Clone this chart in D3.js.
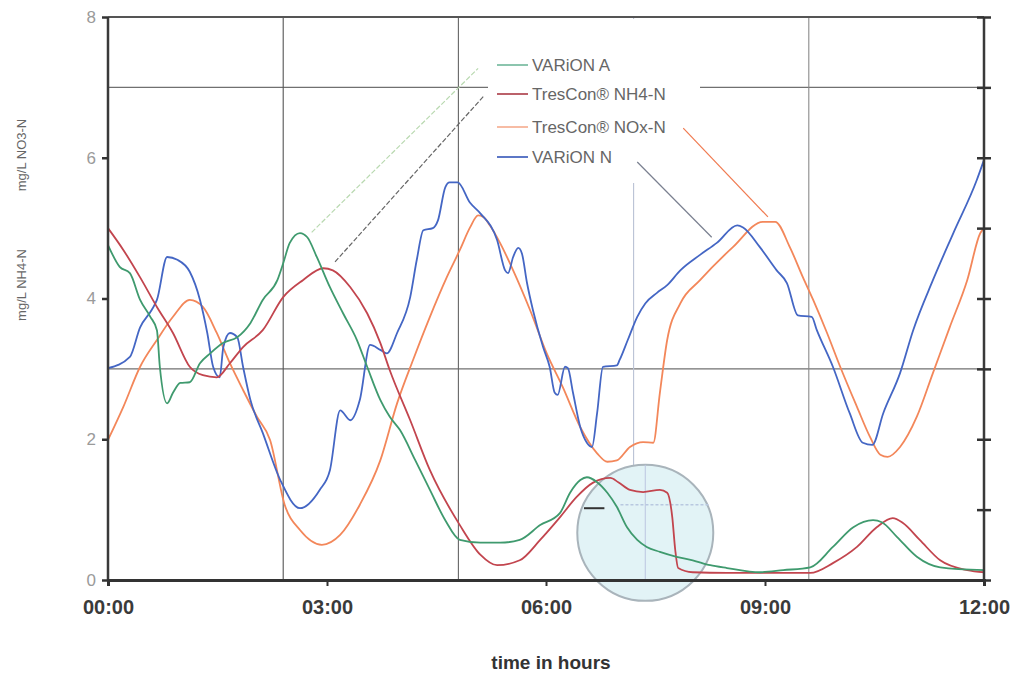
<!DOCTYPE html>
<html><head><meta charset="utf-8">
<script src="https://cdn.jsdelivr.net/npm/d3@7/dist/d3.min.js"></script>
<style>body{margin:0;background:#fff;}svg{display:block;font-family:"Liberation Sans",Arial,sans-serif;}</style>
</head><body>
<svg id="c" width="1019" height="673"></svg>
<script>
// ---- data (hours, mg/L) ----
const xTicks = [0, 3, 6, 9, 12];
const xTickLabels = ["00:00", "03:00", "06:00", "09:00", "12:00"];
const yTicks = [0, 2, 4, 6, 8];
const yTickLabels = ["0", "2", "4", "6", "8"];
const rightTicks = [0,1,2,3,4,5,6,7,8];
const gridH = [3, 7];
const gridV = [2.4, 4.8, 7.2, 9.6];
const seriesNames = ["VARiON A", "TresCon\u00AE  NH4-N", "TresCon\u00AE NOx-N", "VARiON N"];

const varionA = [[0,4.76],[0.16,4.45],[0.30,4.36],[0.44,3.98],[0.58,3.74],[0.67,3.55],[0.71,3.03],[0.81,2.51],[0.89,2.66],[0.99,2.80],[1.12,2.81],[1.26,3.08],[1.40,3.22],[1.58,3.37],[1.77,3.45],[1.95,3.65],[2.12,3.98],[2.32,4.26],[2.40,4.50],[2.49,4.79],[2.63,4.93],[2.73,4.87],[2.86,4.59],[3.04,4.16],[3.22,3.79],[3.41,3.41],[3.55,3.03],[3.73,2.56],[3.86,2.32],[4.00,2.13],[4.21,1.70],[4.41,1.28],[4.62,0.85],[4.82,0.57],[5.10,0.53],[5.37,0.53],[5.64,0.57],[5.92,0.78],[6.19,0.95],[6.33,1.24],[6.47,1.42],[6.56,1.46],[6.70,1.39],[6.84,1.24],[6.97,1.04],[7.11,0.75],[7.25,0.57],[7.38,0.47],[7.56,0.40],[7.79,0.33],[8.01,0.28],[8.25,0.21],[8.48,0.17],[8.93,0.11],[9.25,0.14],[9.62,0.18],[9.93,0.47],[10.21,0.75],[10.48,0.85],[10.60,0.82],[10.81,0.61],[11.08,0.33],[11.40,0.18],[12,0.14]];

const tresNH4 = [[0,5.0],[0.21,4.69],[0.44,4.30],[0.67,3.88],[0.89,3.51],[1.12,3.03],[1.30,2.91],[1.49,2.88],[1.67,3.08],[1.85,3.31],[2.12,3.55],[2.40,4.02],[2.67,4.26],[2.95,4.43],[3.08,4.40],[3.32,4.16],[3.55,3.79],[3.73,3.37],[3.86,2.98],[4.14,2.27],[4.41,1.56],[4.82,0.78],[5.10,0.36],[5.33,0.21],[5.64,0.28],[5.92,0.57],[6.19,0.89],[6.42,1.18],[6.64,1.38],[6.88,1.45],[6.99,1.39],[7.15,1.28],[7.33,1.25],[7.56,1.28],[7.66,1.24],[7.73,0.89],[7.77,0.43],[7.81,0.17],[8.01,0.11],[8.48,0.10],[9.62,0.10],[9.93,0.24],[10.26,0.47],[10.53,0.75],[10.75,0.88],[10.89,0.81],[11.12,0.57],[11.40,0.28],[11.77,0.14],[12,0.11]];

const tresNOx = [[0,1.99],[0.21,2.46],[0.44,3.03],[0.67,3.41],[0.89,3.74],[1.12,3.98],[1.30,3.88],[1.49,3.51],[1.67,3.08],[1.85,2.70],[2.04,2.32],[2.22,1.99],[2.42,1.07],[2.63,0.71],[2.93,0.50],[3.18,0.64],[3.45,1.07],[3.73,1.70],[3.96,2.51],[4.18,3.13],[4.41,3.74],[4.64,4.30],[4.82,4.69],[4.96,5.01],[5.07,5.18],[5.14,5.16],[5.23,5.04],[5.37,4.79],[5.55,4.40],[5.78,3.84],[6.01,3.22],[6.23,2.74],[6.47,2.17],[6.70,1.80],[6.84,1.68],[6.97,1.70],[7.15,1.89],[7.33,1.96],[7.47,1.95],[7.56,2.66],[7.66,3.41],[7.84,3.93],[8.11,4.26],[8.56,4.73],[8.97,5.09],[9.14,5.09],[9.34,4.73],[9.52,4.30],[9.66,3.98],[9.85,3.51],[10.03,3.03],[10.26,2.46],[10.44,2.03],[10.58,1.78],[10.68,1.75],[10.85,1.89],[11.08,2.32],[11.30,2.94],[11.53,3.59],[11.77,4.26],[11.95,4.93],[12,5.0]];

const varionN = [[0,3.01],[0.30,3.17],[0.44,3.59],[0.60,3.84],[0.67,3.98],[0.81,4.59],[0.95,4.55],[1.12,4.38],[1.26,3.98],[1.36,3.51],[1.44,3.03],[1.53,2.88],[1.58,3.31],[1.67,3.51],[1.77,3.45],[1.85,3.03],[1.95,2.56],[2.12,2.09],[2.36,1.42],[2.63,1.02],[2.90,1.28],[3.04,1.56],[3.18,2.41],[3.32,2.27],[3.45,2.56],[3.59,3.34],[3.73,3.27],[3.82,3.22],[3.96,3.51],[4.14,4.02],[4.23,4.55],[4.32,4.97],[4.45,5.00],[4.52,5.11],[4.62,5.58],[4.68,5.65],[4.79,5.65],[4.96,5.36],[5.10,5.21],[5.33,4.83],[5.44,4.40],[5.48,4.36],[5.55,4.59],[5.62,4.72],[5.67,4.64],[5.74,4.22],[5.82,3.84],[5.96,3.31],[6.05,3.03],[6.12,2.66],[6.16,2.63],[6.26,3.03],[6.30,3.01],[6.37,2.66],[6.47,2.17],[6.56,1.95],[6.63,1.89],[6.70,2.37],[6.78,3.03],[6.97,3.05],[7.01,3.13],[7.12,3.41],[7.25,3.74],[7.36,3.93],[7.52,4.08],[7.66,4.19],[7.84,4.40],[8.11,4.62],[8.34,4.79],[8.62,5.04],[8.70,5.01],[8.93,4.73],[9.16,4.40],[9.30,4.22],[9.45,3.76],[9.64,3.74],[9.71,3.55],[9.93,3.03],[10.16,2.37],[10.34,1.95],[10.47,1.92],[10.62,2.37],[10.85,2.94],[11.03,3.55],[11.30,4.26],[11.58,4.93],[11.90,5.68],[12,5.97]];

// ---- layout ----
const svg = d3.select("#c");
const L = 108, R = 984, T = 17, B = 580;
const x = d3.scaleLinear().domain([0, 12]).range([L, R]);
const y = d3.scaleLinear().domain([0, 8]).range([B, T]);

const colors = ["#3f9a6e", "#c2454e", "#f3875a", "#4466c4"];
const legendColors = ["#7fbfa5", "#b4505a", "#f7b59a", "#4a68c0"];

// grid
svg.append("g").selectAll("line").data(gridH).join("line")
  .attr("x1", L).attr("x2", R).attr("y1", d => y(d)).attr("y2", d => y(d))
  .attr("stroke", "#707070").attr("stroke-width", 1.2);
const vCol = ["#555", "#666", "#b9c2d4", "#8a8a8a"];
svg.append("g").selectAll("line").data(gridV).join("line")
  .attr("x1", d => x(d)).attr("x2", d => x(d)).attr("y1", T).attr("y2", B)
  .attr("stroke", (d, i) => vCol[i]).attr("stroke-width", 1.1);

// highlight circle
const circ = {t: 7.36, v: 0.67, r: 68};
svg.append("circle").attr("cx", x(circ.t)).attr("cy", y(circ.v)).attr("r", circ.r)
  .attr("fill", "#e2f3f6").attr("stroke", "#a9b4bb").attr("stroke-width", 2);
svg.append("line").attr("x1", x(7.36)).attr("x2", x(7.36)).attr("y1", y(0.67) - 68).attr("y2", B)
  .attr("stroke", "#bcc6e0").attr("stroke-width", 1);
svg.append("line").attr("x1", x(7.02)).attr("x2", x(8.25)).attr("y1", y(1.07)).attr("y2", y(1.07))
  .attr("stroke", "#b8c8e0").attr("stroke-width", 1.5).attr("stroke-dasharray", "3,2");
svg.append("line").attr("x1", x(6.52)).attr("x2", x(6.80)).attr("y1", y(1.02)).attr("y2", y(1.02))
  .attr("stroke", "#333").attr("stroke-width", 2);

// legend box (covers grid)
svg.append("rect").attr("x", 488).attr("y", 19).attr("width", 212).attr("height", 164).attr("fill", "#fff");

// leader lines
const leaders = [
  {a: [2.79, 4.94], b: [5.07, 7.27], c: "#b9d9b0", dash: "5,2"},
  {a: [3.11, 4.52], b: [5.15, 6.88], c: "#666", dash: "5,2"},
  {a: [9.04, 5.16], b: [7.88, 6.42], c: "#f07a50", dash: null},
  {a: [8.27, 4.87], b: [7.25, 5.94], c: "#7a8090", dash: null}
];
svg.append("g").selectAll("line").data(leaders).join("line")
  .attr("x1", d => x(d.a[0])).attr("y1", d => y(d.a[1]))
  .attr("x2", d => x(d.b[0])).attr("y2", d => y(d.b[1]))
  .attr("stroke", d => d.c).attr("stroke-width", 1.2)
  .attr("stroke-dasharray", d => d.dash);

// series
const line = d3.line().x(d => x(d[0])).y(d => y(d[1])).curve(d3.curveMonotoneX);
const allSeries = [tresNOx, varionN, tresNH4, varionA];
const allColors = [colors[2], colors[3], colors[1], colors[0]];
svg.append("g").selectAll("path").data(allSeries).join("path")
  .attr("d", line).attr("fill", "none")
  .attr("stroke", (d, i) => allColors[i]).attr("stroke-width", 1.8)
  .attr("stroke-linejoin", "round");

// axes frame
const frame = svg.append("g").attr("stroke", "#3a3a3a").attr("fill", "none");
frame.append("line").attr("x1", L).attr("x2", R).attr("y1", T).attr("y2", T).attr("stroke-width", 2.2).attr("stroke", "#555");
frame.append("line").attr("x1", L).attr("x2", L).attr("y1", T).attr("y2", B).attr("stroke-width", 2.5);
frame.append("line").attr("x1", R).attr("x2", R).attr("y1", T).attr("y2", B).attr("stroke-width", 2.5);

// bottom axis
const xAxis = d3.axisBottom(x).tickValues(xTicks).tickSize(6).tickPadding(14)
  .tickFormat((d, i) => xTickLabels[i]);
const gx = svg.append("g").attr("transform", `translate(0,${B})`).call(xAxis);
gx.select(".domain").attr("stroke", "#333").attr("stroke-width", 3);
gx.selectAll(".tick line").attr("stroke", "#333").attr("stroke-width", 2);
gx.selectAll(".tick text").attr("fill", "#3a3a3a").attr("font-size", 20).attr("font-weight", "bold")
  .attr("font-family", "'Liberation Sans Narrow','Liberation Sans',Arial,sans-serif");

// left axis
const yAxis = d3.axisLeft(y).tickValues(yTicks).tickSize(6).tickPadding(6)
  .tickFormat((d, i) => yTickLabels[i]);
const gy = svg.append("g").attr("transform", `translate(${L},0)`).call(yAxis);
gy.select(".domain").remove();
gy.selectAll(".tick line").attr("stroke", "#333").attr("stroke-width", 2.5);
gy.selectAll(".tick text").attr("fill", "#9a9a9a").attr("font-size", 17);

// right axis ticks
const yR = d3.axisRight(y).tickValues(rightTicks).tickSize(7).tickFormat("");
const gr = svg.append("g").attr("transform", `translate(${R},0)`).call(yR);
gr.select(".domain").remove();
gr.selectAll(".tick line").attr("x1", -7).attr("stroke", "#333").attr("stroke-width", 2.5);

// axis titles
svg.append("text").attr("x", 551).attr("y", 669).attr("text-anchor", "middle")
  .attr("font-size", 19).attr("font-weight", "bold").attr("fill", "#333")
  .attr("font-family", "'Liberation Sans Narrow','Liberation Sans',Arial,sans-serif")
  .text("time in hours");
svg.append("text").attr("transform", "translate(26,155) rotate(-90)").attr("text-anchor", "middle")
  .attr("font-size", 13).attr("fill", "#666").text("mg/L NO3-N");
svg.append("text").attr("transform", "translate(26,285) rotate(-90)").attr("text-anchor", "middle")
  .attr("font-size", 13).attr("fill", "#666").text("mg/L NH4-N");

// legend
const legY = [65, 94, 127, 157];
const lg = svg.append("g").selectAll("g").data(seriesNames).join("g")
  .attr("transform", (d, i) => `translate(497,${legY[i]})`);
lg.append("line").attr("x1", 0).attr("x2", 31).attr("y1", 0).attr("y2", 0)
  .attr("stroke", (d, i) => legendColors[i]).attr("stroke-width", 1.8);
lg.append("text").attr("x", 35).attr("y", 6).attr("font-size", 17).attr("fill", "#666").text(d => d);
</script>
</body></html>
